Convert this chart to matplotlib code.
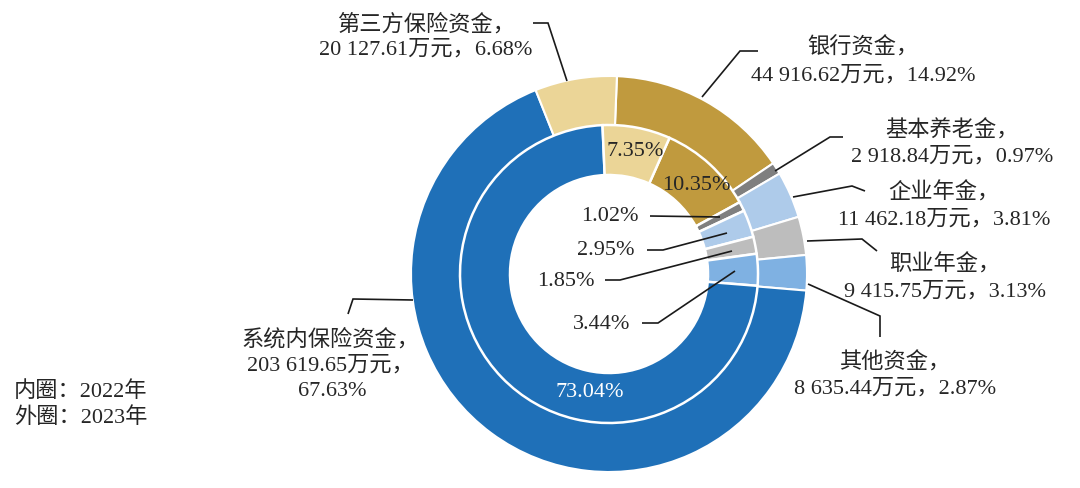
import matplotlib
matplotlib.use("Agg")
import matplotlib.pyplot as plt

# ---------------- data ----------------
categories = ['银行资金', '基本养老金', '企业年金', '职业年金', '其他资金', '系统内保险资金', '第三方保险资金']
amount_2023 = [44916.62, 2918.84, 11462.18, 9415.75, 8635.44, 203619.65, 20127.61]   # 万元
share_2023 = [14.92, 0.97, 3.81, 3.13, 2.87, 67.63, 6.68]                           # outer ring, %
share_2022 = [10.35, 1.02, 2.95, 1.85, 3.44, 73.04, 7.35]                           # inner ring, %
legend_lines = ['内圈：2022年', '外圈：2023年']

# ---------------- style ----------------
colors = ['#c09a3e', '#7f7f7f', '#aecbea', '#bdbdbd', '#7fb1e2', '#1f70b8', '#ebd597']
W, H = 1080, 489
FONT = ['Liberation Serif', 'Noto Sans CJK SC']
FS = 16
TXT = '#262626'
plt.rcParams['font.family'] = FONT

fig = plt.figure(figsize=(W / 100, H / 100), dpi=100)
ax = fig.add_axes([0, 0, 1, 1])


def Y(y):
    return H - y


cx, cy = 609, Y(275)
R_out, R_mid, R_in = 198, 149, 99

ax.pie(share_2023, colors=colors, radius=R_out, center=(cx, cy), startangle=87.7,
       counterclock=False, wedgeprops=dict(width=R_out - R_mid + 8, edgecolor='white', linewidth=1.5))
start_in = 92.5 - share_2022[-1] * 3.6
ax.pie(share_2022, colors=colors, radius=R_mid, center=(cx, cy), startangle=start_in,
       counterclock=False, wedgeprops=dict(width=R_mid - R_in, edgecolor='white', linewidth=1.8))

ax.set_xlim(0, W)
ax.set_ylim(0, H)
ax.set_aspect('equal')
ax.axis('off')


def fmt_amt(v):
    return f"{v:,.2f}".replace(',', ' ')


def put(x, y, s, **kw):
    ax.text(x, Y(y), s, ha='center', va='center', fontsize=FS, color=kw.pop('color', TXT), **kw)


def leader(pts):
    ax.plot([p[0] for p in pts], [Y(p[1]) for p in pts], color='#1a1a1a', lw=1.2,
            solid_joinstyle='miter', solid_capstyle='butt')


# outer labels: (index, center x, y of first line, y of second line)
outer_layout = {
    6: (426, 25, 50),
    0: (863, 48, 76),
    1: (952, 131, 157),
    2: (944, 193, 220),
    3: (945, 265, 292),
    4: (895, 363, 389),
}
for i, (x, y1, y2) in outer_layout.items():
    put(x, y1, categories[i] + '，')
    put(x, y2, f"{fmt_amt(amount_2023[i])}万元，{share_2023[i]:.2f}%")

# 系统内保险资金 (three lines)
put(330, 340, categories[5] + '，')
put(330, 366, f"{fmt_amt(amount_2023[5])}万元，")
put(332, 392, f"{share_2023[5]:.2f}%")

outer_leaders = [
    [(533, 24), (548, 24), (567, 82)],
    [(758, 52), (740, 52), (702, 98)],
    [(843, 138), (830, 138), (775, 172)],
    [(865, 192), (852, 187), (793, 198)],
    [(807, 242), (862, 240), (877, 252)],
    [(808, 285), (880, 317), (880, 338)],
    [(348, 315), (353, 300), (413, 301)],
]
for pts in outer_leaders:
    leader(pts)

# inner labels
put(635, 152, f"{share_2022[6]:.2f}%")
put(696, 186, f"{share_2022[0]:.2f}%")
put(610, 217, f"{share_2022[1]:.2f}%")
put(606, 251, f"{share_2022[2]:.2f}%")
put(566, 282, f"{share_2022[3]:.2f}%")
put(602, 325, f"{share_2022[4]:.2f}%")
put(590, 393, f"{share_2022[5]:.2f}%", color='white')

inner_leaders = [
    [(650, 217), (720, 218)],
    [(647, 251), (663, 251), (727, 234)],
    [(605, 281), (620, 281), (732, 252)],
    [(642, 324), (658, 324), (735, 272)],
]
for pts in inner_leaders:
    leader(pts)

# legend text
ax.text(14, Y(392), legend_lines[0], ha='left', va='center', fontsize=FS, color=TXT)
ax.text(14, Y(418), legend_lines[1], ha='left', va='center', fontsize=FS, color=TXT)

fig.savefig('out.png', dpi=100, facecolor='white')
